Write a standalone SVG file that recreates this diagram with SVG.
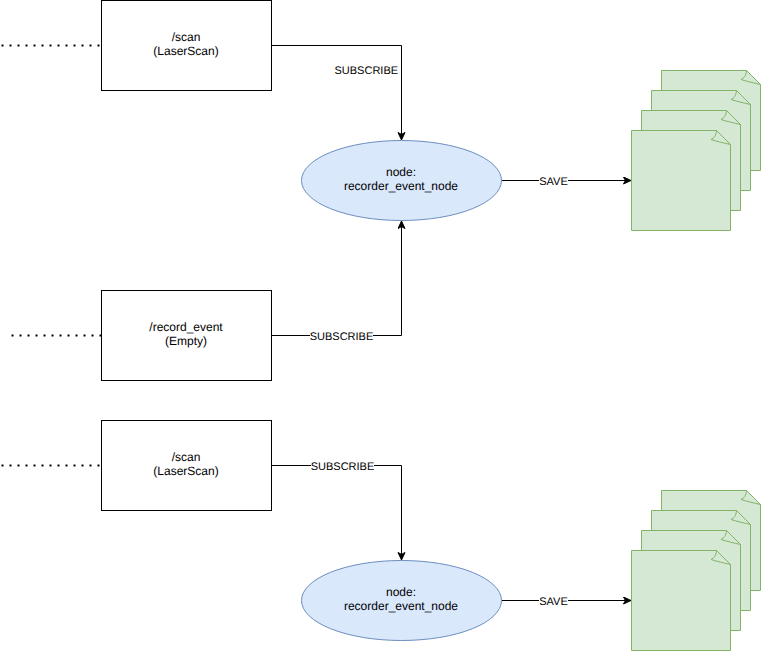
<svg xmlns="http://www.w3.org/2000/svg" width="762" height="651" viewBox="0 0 762 651">
<style>
text{font-family:"Liberation Sans",Arial,sans-serif;font-size:12px;fill:#000;text-anchor:middle;text-rendering:geometricPrecision;opacity:.999}
.lbl{font-size:11px}
.box{fill:#fff;stroke:#000;stroke-width:1}
.ell{fill:#dae8fc;stroke:#6c8ebf;stroke-width:1}
.pg{fill:#d5e8d4;stroke:#82b366;stroke-width:1}
.curl{fill:none;stroke:#82b366;stroke-width:1}
.c{fill:none;stroke:#000;stroke-width:1}
.dot{fill:none;stroke:#000;stroke-width:2;stroke-dasharray:2 6}
</style>
<defs>
<marker id="arrow" markerUnits="userSpaceOnUse" markerWidth="10" markerHeight="10" refX="8" refY="4" orient="auto"><path d="M0.5 0.5L8 4L0.5 7.5L2.4 4Z" fill="#000" stroke="#000" stroke-width="1"/></marker>
<g id="page"><path class="pg" d="M0.5 0.5H85.5L99.5 14.5V100.5H0.5Z"/><path class="curl" d="M85.5 0.5C85 6 83 8 80 9.5C86 11.5 93 13 99.5 14.5"/></g>
<g id="pages"><use href="#page" x="30" y="-60"/><use href="#page" x="20" y="-40"/><use href="#page" x="10" y="-20"/><use href="#page"/></g>
</defs>
<g id="connectors">
<path class="dot" d="M1.500 45.500H101"/>
<path class="dot" d="M11.500 335.500H101"/>
<path class="dot" d="M1.500 465.500H101"/>
<path class="c" marker-end="url(#arrow)" d="M271.500 45.500H401.500V140"/>
<path class="c" marker-end="url(#arrow)" d="M271.500 335.500H401.500V221"/>
<path class="c" marker-end="url(#arrow)" d="M271.500 465.500H401.500V560"/>
<path class="c" marker-end="url(#arrow)" d="M501.500 180.500H631"/>
<path class="c" marker-end="url(#arrow)" d="M501.500 600.500H631"/>
<rect x="335" y="63" width="63" height="14" fill="#fff"/>
<text class="lbl" x="366.300" y="74">SUBSCRIBE</text>
<rect x="310" y="329" width="63" height="13" fill="#fff"/>
<text class="lbl" x="341.500" y="339.500">SUBSCRIBE</text>
<rect x="311" y="459" width="63" height="13" fill="#fff"/>
<text class="lbl" x="342.500" y="469.500">SUBSCRIBE</text>
<rect x="539" y="174" width="29" height="13" fill="#fff"/>
<text class="lbl" x="553.500" y="184.500">SAVE</text>
<rect x="539" y="594" width="29" height="13" fill="#fff"/>
<text class="lbl" x="553.500" y="604.500">SAVE</text>
</g>
<g id="scan1"><rect class="box" x="101.500" y="0.500" width="170" height="90"/><text x="186" y="41">/scan</text><text x="186" y="55">(LaserScan)</text></g>
<g id="record"><rect class="box" x="101.500" y="290.500" width="170" height="90"/><text x="186" y="331">/record_event</text><text x="186" y="345">(Empty)</text></g>
<g id="scan2"><rect class="box" x="101.500" y="420.500" width="170" height="90"/><text x="186" y="461">/scan</text><text x="186" y="475">(LaserScan)</text></g>
<g id="node1"><ellipse class="ell" cx="401.500" cy="180.500" rx="100" ry="40"/><text x="401" y="176">node:</text><text x="401" y="190">recorder_event_node</text></g>
<g id="node2"><ellipse class="ell" cx="401.500" cy="600.500" rx="100" ry="40"/><text x="401" y="596">node:</text><text x="401" y="610">recorder_event_node</text></g>
<g id="files1" transform="translate(631 130)"><use href="#pages"/></g>
<g id="files2" transform="translate(631 550)"><use href="#pages"/></g>
</svg>
